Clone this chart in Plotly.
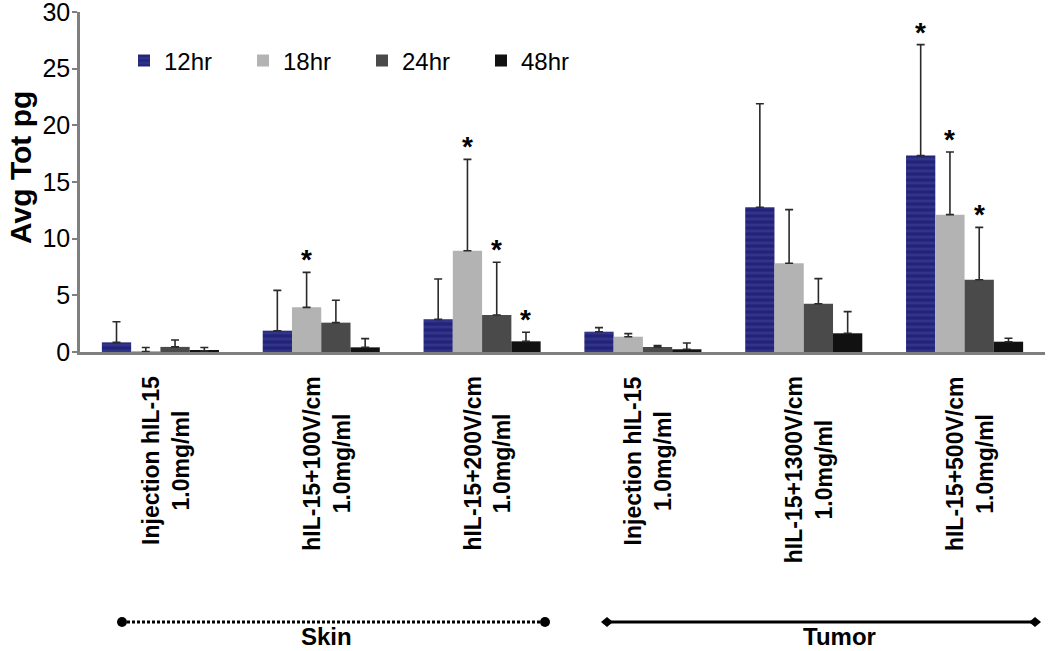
import plotly.graph_objects as go

categories = ["Injection hIL-15<br>1.0mg/ml", "hIL-15+100V/cm<br>1.0mg/ml", "hIL-15+200V/cm<br>1.0mg/ml",
              "Injection hIL-15<br>1.0mg/ml ", "hIL-15+1300V/cm<br>1.0mg/ml", "hIL-15+500V/cm<br>1.0mg/ml"]
series_names = ["12hr", "18hr", "24hr", "48hr"]
vals_12 = [0.85, 1.88, 2.88, 1.79, 12.77, 17.33]
vals_18 = [0.05, 3.94, 8.94, 1.35, 7.83, 12.12]
vals_24 = [0.45, 2.59, 3.27, 0.44, 4.26, 6.38]
vals_48 = [0.10, 0.41, 0.94, 0.24, 1.65, 0.91]
err_12 = [1.82, 3.56, 3.56, 0.36, 9.13, 9.79]
err_18 = [0.35, 3.09, 8.06, 0.27, 4.73, 5.53]
err_24 = [0.61, 1.97, 4.65, 0.12, 2.21, 4.62]
err_48 = [0.30, 0.77, 0.80, 0.55, 1.91, 0.30]
# significance markers: (category index, series index)
sig = [(1, 1), (2, 1), (2, 2), (2, 3), (5, 0), (5, 1), (5, 2)]
groups = [("Skin", 0, 2), ("Tumor", 3, 5)]
y_ticks = [0, 5, 10, 15, 20, 25, 30]
y_title = "Avg Tot pg"

values = [vals_12, vals_18, vals_24, vals_48]
errors = [err_12, err_18, err_24, err_48]
colors = ["#26267e", "#b3b3b3", "#4a4a4a", "#111111"]

FONT = "Liberation Sans, Arial, sans-serif"
W, H = 1050, 651
PLOT_L, PLOT_R, PLOT_T, PLOT_B = 80, 1045, 12, 352   # plot area in page pixels
ML, MT = PLOT_L, PLOT_T
MR, MB = W - PLOT_R, H - PLOT_B
BARGAP = 0.272
plot_w = PLOT_R - PLOT_L
plot_h = PLOT_B - PLOT_T
cat_px = plot_w / len(categories)
bar_px = cat_px * (1 - BARGAP) / len(series_names)


def py(pix):
    """page pixel row -> paper y"""
    return (PLOT_B - pix) / plot_h


def px(pix):
    """page pixel column -> paper x"""
    return (pix - PLOT_L) / plot_w


fig = go.Figure()
for i, name in enumerate(series_names):
    marker = dict(color=colors[i], line=dict(width=0))
    if i == 0:
        marker["pattern"] = dict(shape="-", fgcolor="#40479a", bgcolor="#23237a", size=6, solidity=0.45)
    fig.add_trace(go.Bar(
        name=name, x=categories, y=values[i], marker=marker,
        error_y=dict(type="data", symmetric=False, array=errors[i], arrayminus=[0] * len(categories),
                     color="#2a2a2a", thickness=1.6, width=4),
    ))

annotations = []
for ci, si in sig:
    top = values[si][ci] + errors[si][ci]
    annotations.append(dict(x=categories[ci], y=top, xref="x", yref="y", text="<b>*</b>",
                            showarrow=False, yanchor="bottom", yshift=-5,
                            xshift=(si - 1.5) * bar_px,
                            font=dict(family=FONT, size=28, color="black")))

for c in categories:
    annotations.append(dict(x=c, y=py(374), xref="x", yref="paper", text="<b>" + c.strip() + "</b>",
                            showarrow=False, textangle=-90, yanchor="top", xanchor="center", xshift=5,
                            font=dict(family=FONT, size=23, color="black")))

annotations.append(dict(x=px(20), y=py(168), xref="paper", yref="paper", text="<b>" + y_title + "</b>",
                        showarrow=False, textangle=-90, xanchor="center", yanchor="middle",
                        font=dict(family=FONT, size=30, color="black")))

shapes = []
line_y = py(622)
bracket_px = {"Skin": (122, 545), "Tumor": (607, 1035)}
label_px = {"Skin": 326, "Tumor": 839}
for gi, (gname, a, b) in enumerate(groups):
    x0, x1 = px(bracket_px[gname][0]), px(bracket_px[gname][1])
    if gi == 0:
        shapes.append(dict(type="line", xref="paper", yref="paper", x0=x0, x1=x1, y0=line_y, y1=line_y,
                           line=dict(color="black", width=3, dash="3px,2px")))
        for xe in (x0, x1):
            shapes.append(dict(type="circle", xref="paper", yref="paper", xsizemode="pixel", ysizemode="pixel",
                               xanchor=xe, yanchor=line_y, x0=-5, x1=5, y0=-5, y1=5,
                               fillcolor="black", line=dict(color="black", width=0)))
    else:
        shapes.append(dict(type="line", xref="paper", yref="paper", x0=x0, x1=x1, y0=line_y, y1=line_y,
                           line=dict(color="black", width=3)))
        for xe in (x0, x1):
            shapes.append(dict(type="path", xref="paper", yref="paper", xsizemode="pixel", ysizemode="pixel",
                               xanchor=xe, yanchor=line_y, path="M-6,0 L0,5 L6,0 L0,-5 Z",
                               fillcolor="black", line=dict(color="black", width=0)))
    annotations.append(dict(x=px(label_px[gname]), y=py(636), xref="paper", yref="paper",
                            text="<b>" + gname + "</b>", showarrow=False, yanchor="middle", xanchor="center",
                            font=dict(family=FONT, size=24, color="black")))

fig.update_layout(
    width=W, height=H, margin=dict(l=ML, r=MR, t=MT, b=MB, autoexpand=False),
    paper_bgcolor="white", plot_bgcolor="white",
    barmode="group", bargap=BARGAP, bargroupgap=0,
    font=dict(family=FONT, color="black"),
    legend=dict(orientation="h", x=px(124), xanchor="left", y=py(61),
                yanchor="middle", font=dict(family=FONT, size=24), entrywidth=74, bgcolor="rgba(0,0,0,0)",
                itemwidth=30),
    annotations=annotations, shapes=shapes,
)
fig.update_xaxes(showticklabels=False, showline=True, linecolor="#7f7f7f", linewidth=2.5, ticks="",
                 showgrid=False, automargin=False)
fig.update_yaxes(range=[0, 30], tickvals=y_ticks, showline=True, linecolor="#7f7f7f", linewidth=2.5,
                 ticks="outside", ticklen=5, tickcolor="#7f7f7f", tickwidth=2, showgrid=False, zeroline=False,
                 tickfont=dict(family=FONT, size=25, color="black"), automargin=False,
                 ticklabeloverflow="allow", ticklabelstandoff=-3)

fig.write_html("out.html", config={"displayModeBar": False},
               post_script="document.body.style.margin='0';document.body.style.overflow='hidden';")
